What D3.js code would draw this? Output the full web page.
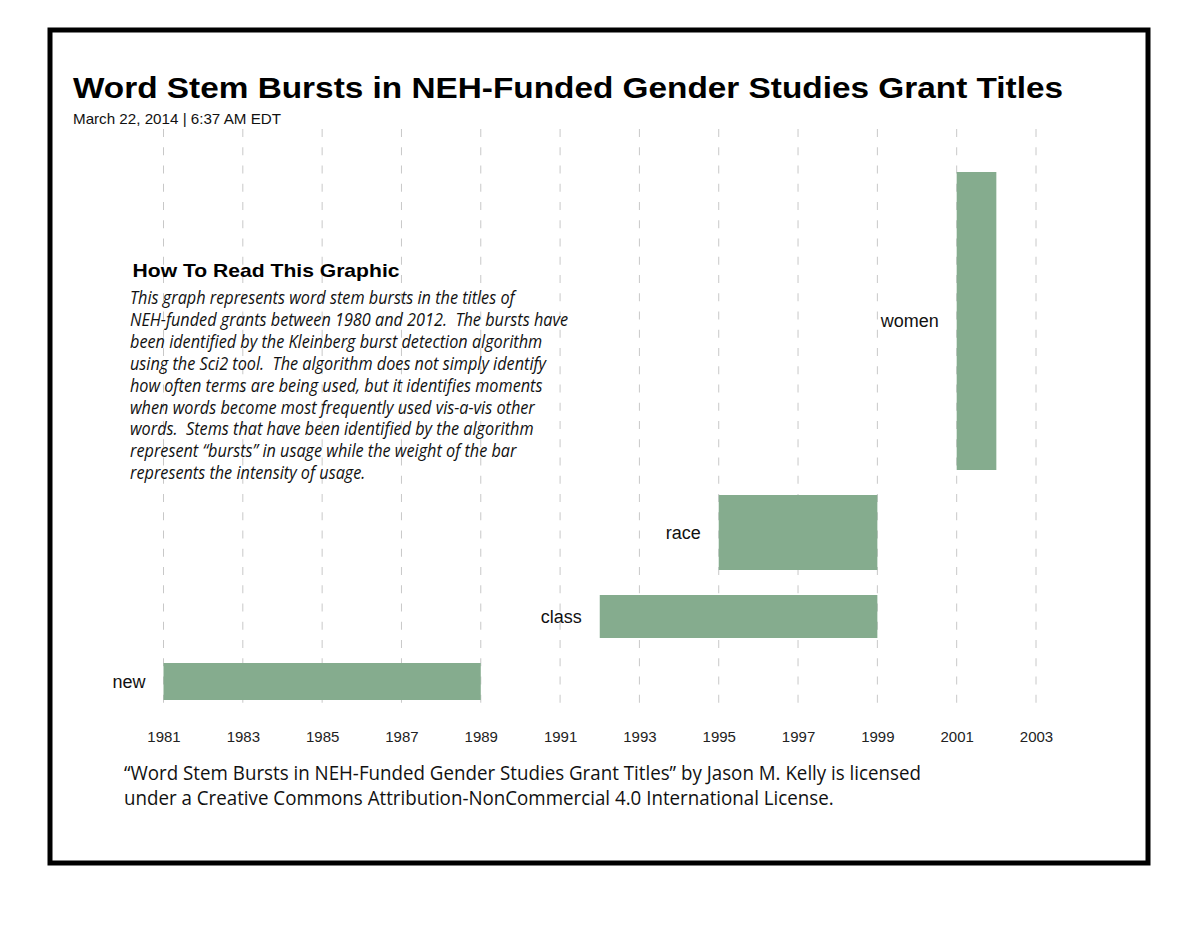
<!DOCTYPE html>
<html><head><meta charset="utf-8">
<script src="https://cdn.jsdelivr.net/npm/d3@7"></script>
<style>body{margin:0;background:#fff}</style>
</head><body><svg id="c" width="1200" height="927"></svg>
<script>
// ---- data ----
const stems = ["new", "class", "race", "women"];
const burstStart = [1981, 1992, 1995, 2001];
const burstEnd = [1989, 1999, 1999, 2002];
const burstWeight = [3.7, 4.3, 7.5, 29.8];
const yearTicks = [1981, 1983, 1985, 1987, 1989, 1991, 1993, 1995, 1997, 1999, 2001, 2003];
const titleText = "Word Stem Bursts in NEH-Funded Gender Studies Grant Titles";
const subtitleText = "March 22, 2014 | 6:37 AM EDT";
const howToTitle = "How To Read This Graphic";
const howToLines = [
  "This graph represents word stem bursts in the titles of",
  "NEH-funded grants between 1980 and 2012.  The bursts have",
  "been identified by the Kleinberg burst detection algorithm",
  "using the Sci2 tool.  The algorithm does not simply identify",
  "how often terms are being used, but it identifies moments",
  "when words become most frequently used vis-a-vis other",
  "words.  Stems that have been identified by the algorithm",
  "represent \u201cbursts\u201d in usage while the weight of the bar",
  "represents the intensity of usage."
];
const creditLines = [
  "\u201cWord Stem Bursts in NEH-Funded Gender Studies Grant Titles\u201d by Jason M. Kelly is licensed",
  "under a Creative Commons Attribution-NonCommercial 4.0 International License."
];

// ---- drawing ----
const svg = d3.select("#c");
const sans = "'Liberation Sans', Arial, sans-serif";
const body = "'Open Sans', 'Noto Sans', sans-serif";

svg.append("rect").attr("x", 50).attr("y", 30).attr("width", 1098).attr("height", 833)
  .attr("fill", "none").attr("stroke", "#000").attr("stroke-width", 5);

const x = d3.scaleLinear().domain([1981, 2003]).range([163.5, 1036]);
const thick = d3.scaleLinear().domain([0, d3.max(burstWeight)]).range([0, 298]);

// grid
svg.append("g").selectAll("line").data(yearTicks).join("line")
  .attr("x1", d => x(d)).attr("x2", d => x(d))
  .attr("y1", 129).attr("y2", 713)
  .attr("stroke", "#c8c8c8").attr("stroke-width", 1)
  .attr("stroke-dasharray", "8,10.25");

// stacked bursts
const gap = 25;
let cursor = 700;
const bars = stems.map((s, i) => {
  const h = thick(burstWeight[i]);
  const y = cursor - h;
  cursor = y - gap;
  return {stem: s, start: burstStart[i], end: burstEnd[i], y, h};
});

svg.append("g").selectAll("rect").data(bars).join("rect")
  .attr("x", d => x(d.start)).attr("width", d => x(d.end) - x(d.start))
  .attr("y", d => d.y).attr("height", d => d.h)
  .attr("fill", "#85ac8e");

svg.append("g").selectAll("text").data(bars).join("text")
  .attr("x", d => x(d.start) - 18).attr("y", d => d.y + d.h / 2)
  .attr("dy", "0.35em").attr("text-anchor", "end")
  .attr("font-family", sans).attr("font-size", 18).attr("fill", "#111")
  .text(d => d.stem);

// axis
const axis = svg.append("g").attr("transform", "translate(0,731)")
  .call(d3.axisBottom(x).tickValues(yearTicks).tickFormat(d3.format("d")).tickSize(0).tickPadding(0));
axis.select(".domain").remove();
axis.selectAll("text").attr("font-family", sans).attr("font-size", 15).attr("fill", "#222");

// titles
svg.append("text").attr("x", 73).attr("y", 98)
  .attr("font-family", sans).attr("font-weight", "bold").attr("font-size", 30)
  .attr("textLength", 990).attr("lengthAdjust", "spacingAndGlyphs").text(titleText);
svg.append("text").attr("x", 73).attr("y", 124)
  .attr("font-family", sans).attr("font-size", 15).attr("fill", "#111")
  .attr("textLength", 208).attr("lengthAdjust", "spacingAndGlyphs")
  .text(subtitleText);

svg.append("text").attr("x", 132.5).attr("y", 277)
  .attr("font-family", sans).attr("font-weight", "bold").attr("font-size", 18.5)
  .attr("textLength", 267).attr("lengthAdjust", "spacingAndGlyphs").text(howToTitle);

function fitBlock(lines, x0, y0, lh, size, style, targetMax) {
  const g = svg.append("g");
  const t = g.selectAll("text").data(lines).join("text")
    .attr("x", x0).attr("y", (d, i) => y0 + i * lh)
    .attr("font-family", body).attr("font-style", style).attr("font-size", size)
    .attr("fill", "#111").style("white-space", "pre")
    .text(d => d);
  const widths = t.nodes().map(n => n.getComputedTextLength());
  const k = targetMax / d3.max(widths);
  t.attr("textLength", (d, i) => widths[i] * k).attr("lengthAdjust", "spacingAndGlyphs");
}
fitBlock(howToLines, 130, 304, 21.9, 18, "italic", 438);
fitBlock(creditLines, 124, 780, 25, 20, "normal", 797);
</script></body></html>
